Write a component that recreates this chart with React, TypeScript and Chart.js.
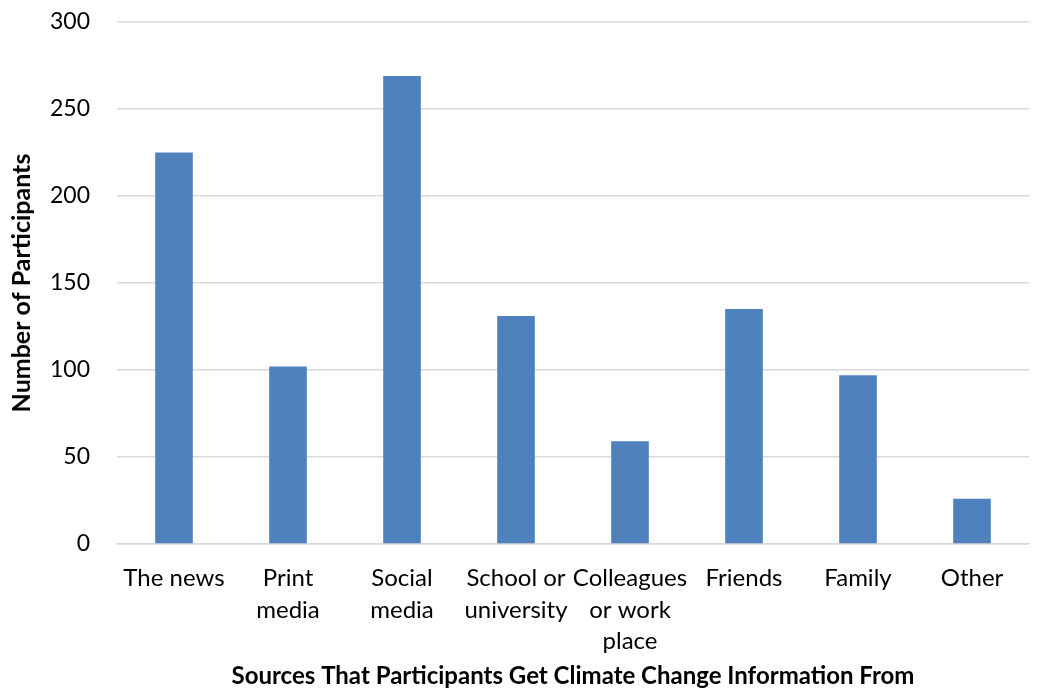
import React, { useEffect, useRef } from "react";
import { Chart, registerables } from "chart.js";

Chart.register(...registerables);

const categories: (string | string[])[] = [
  "The news",
  ["Print", "media"],
  ["Social", "media"],
  ["School or", "university"],
  ["Colleagues", "or work", "place"],
  "Friends",
  "Family",
  "Other",
];
const participants = [225, 102, 269, 131, 59, 135, 97, 26];
const yTicks = [0, 50, 100, 150, 200, 250, 300];
const xTitle = "Sources That Participants Get Climate Change Information From";
const yTitle = "Number of Participants";

const FONT = "Lato, 'DejaVu Sans', sans-serif";

export default function App() {
  const ref = useRef<HTMLCanvasElement | null>(null);
  useEffect(() => {
    if (!ref.current) return;
    const chart = new Chart(ref.current, {
      type: "bar",
      data: {
        labels: categories,
        datasets: [
          {
            data: participants,
            backgroundColor: "#4F81BD",
            borderWidth: 0,
            barPercentage: 1,
            categoryPercentage: 0.33,
          },
        ],
      },
      options: {
        animation: false,
        responsive: false,
        maintainAspectRatio: false,
        layout: { padding: { top: 22, right: 28, bottom: 0, left: 0 } },
        plugins: { legend: { display: false }, tooltip: { enabled: false } },
        scales: {
          x: {
            grid: { display: false, drawTicks: false },
            border: { display: true, color: "#d9d9d9", width: 1.5 },
            ticks: {
              color: "#000",
              font: { family: FONT, size: 24, lineHeight: 1.3 },
              padding: 19,
              maxRotation: 0,
              autoSkip: false,
            },
            title: {
              display: true,
              text: xTitle,
              color: "#000",
              font: { family: FONT, size: 24, weight: "bold", lineHeight: 1.0 },
              padding: { top: 0, bottom: 2 },
            },
            afterFit: (s: any) => {
              s.height = 146;
              s.paddingLeft = 0;
              s.paddingRight = 0;
            },
          },
          y: {
            min: 0,
            max: 300,
            afterBuildTicks: (s: any) => {
              s.ticks = yTicks.map((v) => ({ value: v }));
            },
            grid: { color: "#d9d9d9", lineWidth: 1.5, drawTicks: false },
            border: { display: false },
            ticks: {
              color: "#000",
              font: { family: FONT, size: 23 },
              padding: 27,
            },
            title: {
              display: true,
              text: yTitle,
              color: "#000",
              font: { family: FONT, size: 25, weight: "bold", lineHeight: 1.2 },
              padding: { top: 7, bottom: 0 },
            },
            afterFit: (s: any) => {
              s.width = 117;
              s.paddingTop = 0;
              s.paddingBottom = 0;
            },
          },
        },
      },
    });
    return () => chart.destroy();
  }, []);
  return (
    <div style={{ position: "fixed", left: 0, top: 0, width: 1057, height: 690, background: "#fff" }}>
      <canvas ref={ref} width={1057} height={690} style={{ display: "block" }} />
    </div>
  );
}
